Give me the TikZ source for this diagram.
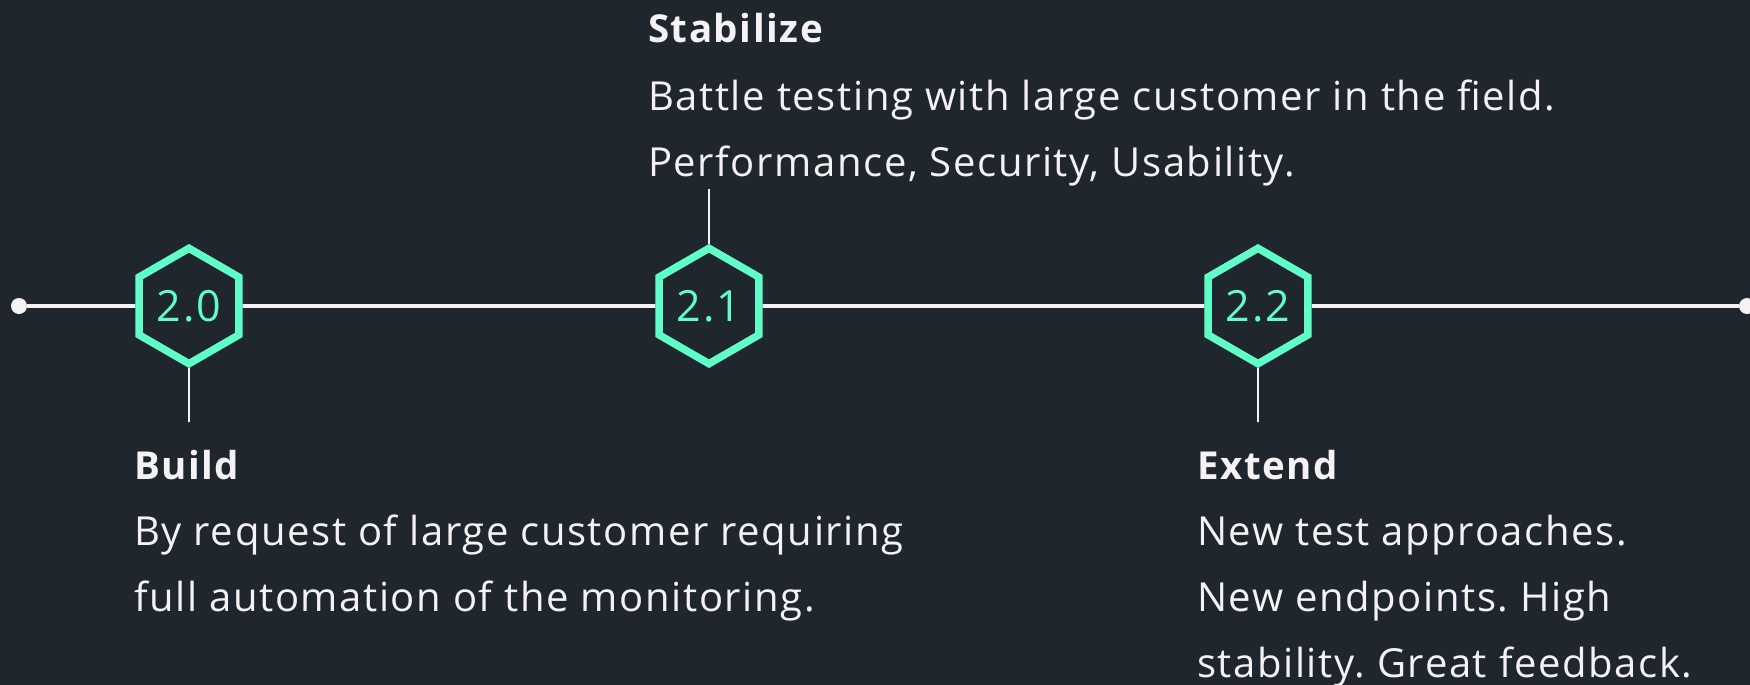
\documentclass[tikz,border=0pt]{standalone}
\usepackage{fontspec}
\setmainfont{Open Sans}[LetterSpace=4]
\usetikzlibrary{shapes.geometric}
\definecolor{bgc}{HTML}{1F262E}
\definecolor{teal}{HTML}{60FDC9}
\definecolor{fg}{HTML}{F4F2F4}
\tikzset{
  hexnode/.style={regular polygon, regular polygon sides=6, regular polygon rotate=30,
    minimum size=115.4pt, inner sep=0pt, draw=teal, line width=7.5pt, text=teal,
    font=\fontsize{43}{48}\selectfont},
  dotnode/.style={circle, fill=fg, minimum size=16pt, inner sep=0pt},
  mainline/.style={draw=fg, line width=3.6pt},
  tick/.style={draw=fg, line width=1.8pt},
  ttl/.style={anchor=base west, inner sep=0pt, text=fg, font=\fontsize{38.5}{46}\selectfont\bfseries},
  bodytxt/.style={anchor=base west, inner sep=0pt, text=fg, font=\fontsize{40}{46}\selectfont},
}
\frenchspacing
\begin{document}
\begin{tikzpicture}[x=1pt,y=-1pt]
\fill[bgc] (0,0) rectangle (1750,685);
\useasboundingbox (0,0) rectangle (1750,685);
\node[dotnode] (dL) at (19,306) {};
\node[dotnode] (dR) at (1747,306) {};
\node[hexnode] (h20) at (189,306) {2.0};
\node[hexnode] (h21) at (709,306) {2.1};
\node[hexnode] (h22) at (1258,306) {2.2};
\coordinate (b20) at (189,422);
\coordinate (t21) at (709,189);
\coordinate (b22) at (1258,422);
\draw[mainline] (dL) -- (h20);
\draw[mainline] (h20) -- (h21);
\draw[mainline] (h21) -- (h22);
\draw[mainline] (h22) -- (dR);
\draw[tick] (h20.south) -- (b20);
\draw[tick] (h21.north) -- (t21);
\draw[tick] (h22.south) -- (b22);
% Stabilize
\node[ttl] (st0) at (648,43) {Stabilize};
\node[bodytxt] (st1) at (648,110) {Battle testing with large customer in the field.};
\node[bodytxt] (st2) at (648,176) {Performance, Security, Usability.};
% Build
\node[ttl] (bu0) at (134,479) {Build};
\node[bodytxt] (bu1) at (134,545) {By request of large customer requiring};
\node[bodytxt] (bu2) at (134,611) {full automation of the monitoring.};
% Extend
\node[ttl] (ex0) at (1197,479) {Extend};
\node[bodytxt] (ex1) at (1197,545) {New test approaches.};
\node[bodytxt] (ex2) at (1197,611) {New endpoints. High};
\node[bodytxt] (ex3) at (1197,677) {stability. Great feedback.};
\end{tikzpicture}
\end{document}
